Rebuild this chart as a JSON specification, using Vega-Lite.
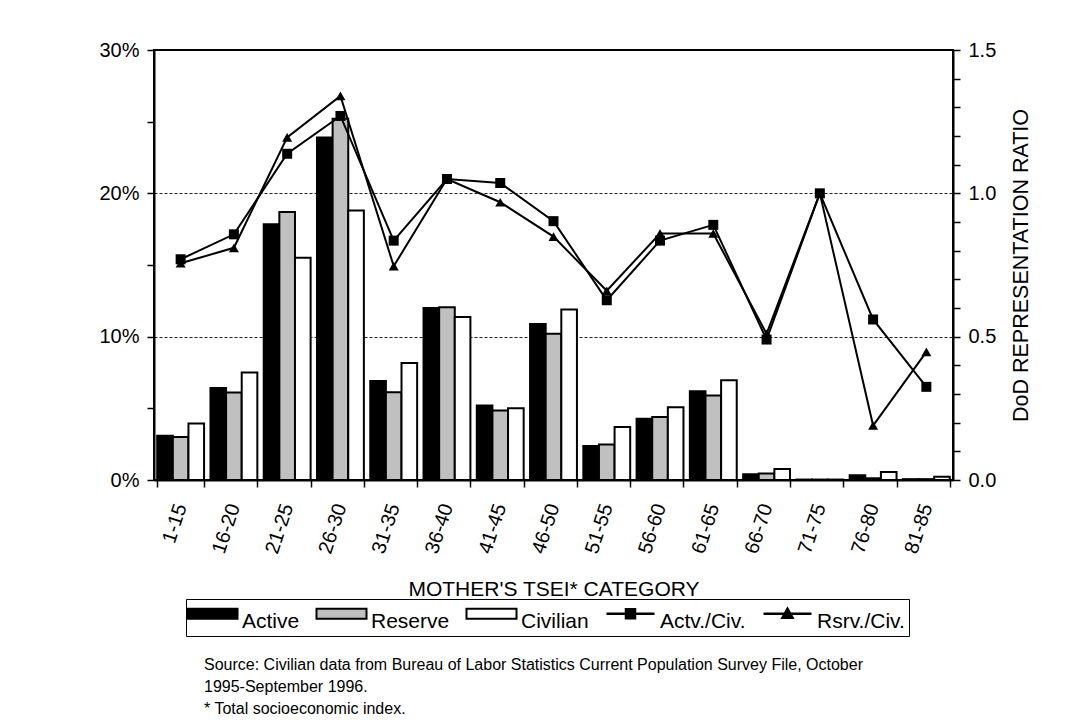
{
  "$schema": "https://vega.github.io/schema/vega-lite/v6.json",
  "autosize": "none",
  "width": 799,
  "height": 430,
  "padding": {"left": 154, "top": 50, "right": 139, "bottom": 247},
  "background": "white",
  "config": {
    "view": {"stroke": "black", "strokeWidth": 2},
    "font": "Liberation Sans",
    "axis": {"labelFont": "Liberation Sans", "titleFont": "Liberation Sans", "labelColor": "black", "titleColor": "black", "domainColor": "black", "tickColor": "black", "titleFontWeight": "normal"}
  },
  "title": {
    "text": ["Source:  Civilian data from Bureau of Labor Statistics Current Population Survey File, October", "1995-September 1996.", "* Total socioeconomic index."],
    "orient": "bottom",
    "anchor": "start",
    "frame": "group",
    "offset": 20,
    "dx": 50,
    "font": "Liberation Sans",
    "fontSize": 16,
    "fontWeight": "normal",
    "lineHeight": 22,
    "color": "black",
    "baseline": "top"
  },
  "datasets": {
    "bars": [
      {"cat": "1-15", "series": "Active", "value": 0.0308},
      {"cat": "1-15", "series": "Reserve", "value": 0.030},
      {"cat": "1-15", "series": "Civilian", "value": 0.0395},
      {"cat": "16-20", "series": "Active", "value": 0.0642},
      {"cat": "16-20", "series": "Reserve", "value": 0.061},
      {"cat": "16-20", "series": "Civilian", "value": 0.075},
      {"cat": "21-25", "series": "Active", "value": 0.1784},
      {"cat": "21-25", "series": "Reserve", "value": 0.187},
      {"cat": "21-25", "series": "Civilian", "value": 0.155},
      {"cat": "26-30", "series": "Active", "value": 0.239},
      {"cat": "26-30", "series": "Reserve", "value": 0.252},
      {"cat": "26-30", "series": "Civilian", "value": 0.188},
      {"cat": "31-35", "series": "Active", "value": 0.069},
      {"cat": "31-35", "series": "Reserve", "value": 0.0612},
      {"cat": "31-35", "series": "Civilian", "value": 0.0816},
      {"cat": "36-40", "series": "Active", "value": 0.120},
      {"cat": "36-40", "series": "Reserve", "value": 0.1206},
      {"cat": "36-40", "series": "Civilian", "value": 0.1137},
      {"cat": "41-45", "series": "Active", "value": 0.052},
      {"cat": "41-45", "series": "Reserve", "value": 0.0485},
      {"cat": "41-45", "series": "Civilian", "value": 0.050},
      {"cat": "46-50", "series": "Active", "value": 0.1088},
      {"cat": "46-50", "series": "Reserve", "value": 0.102},
      {"cat": "46-50", "series": "Civilian", "value": 0.119},
      {"cat": "51-55", "series": "Active", "value": 0.0237},
      {"cat": "51-55", "series": "Reserve", "value": 0.0248},
      {"cat": "51-55", "series": "Civilian", "value": 0.037},
      {"cat": "56-60", "series": "Active", "value": 0.0427},
      {"cat": "56-60", "series": "Reserve", "value": 0.044},
      {"cat": "56-60", "series": "Civilian", "value": 0.0508},
      {"cat": "61-65", "series": "Active", "value": 0.062},
      {"cat": "61-65", "series": "Reserve", "value": 0.059},
      {"cat": "61-65", "series": "Civilian", "value": 0.0696},
      {"cat": "66-70", "series": "Active", "value": 0.004},
      {"cat": "66-70", "series": "Reserve", "value": 0.0046},
      {"cat": "66-70", "series": "Civilian", "value": 0.0077},
      {"cat": "71-75", "series": "Active", "value": 0.0003},
      {"cat": "71-75", "series": "Reserve", "value": 0.0003},
      {"cat": "71-75", "series": "Civilian", "value": 0.0003},
      {"cat": "76-80", "series": "Active", "value": 0.0033},
      {"cat": "76-80", "series": "Reserve", "value": 0.0012},
      {"cat": "76-80", "series": "Civilian", "value": 0.0056},
      {"cat": "81-85", "series": "Active", "value": 0.0006},
      {"cat": "81-85", "series": "Reserve", "value": 0.0006},
      {"cat": "81-85", "series": "Civilian", "value": 0.0023}
    ],
    "ratios": [
      {"cat": "1-15", "series": "Actv./Civ.", "ratio": 0.77},
      {"cat": "16-20", "series": "Actv./Civ.", "ratio": 0.857},
      {"cat": "21-25", "series": "Actv./Civ.", "ratio": 1.138},
      {"cat": "26-30", "series": "Actv./Civ.", "ratio": 1.27},
      {"cat": "31-35", "series": "Actv./Civ.", "ratio": 0.835},
      {"cat": "36-40", "series": "Actv./Civ.", "ratio": 1.05},
      {"cat": "41-45", "series": "Actv./Civ.", "ratio": 1.036},
      {"cat": "46-50", "series": "Actv./Civ.", "ratio": 0.903},
      {"cat": "51-55", "series": "Actv./Civ.", "ratio": 0.627},
      {"cat": "56-60", "series": "Actv./Civ.", "ratio": 0.835},
      {"cat": "61-65", "series": "Actv./Civ.", "ratio": 0.89},
      {"cat": "66-70", "series": "Actv./Civ.", "ratio": 0.49},
      {"cat": "71-75", "series": "Actv./Civ.", "ratio": 1.0},
      {"cat": "76-80", "series": "Actv./Civ.", "ratio": 0.56},
      {"cat": "81-85", "series": "Actv./Civ.", "ratio": 0.325},
      {"cat": "1-15", "series": "Rsrv./Civ.", "ratio": 0.756},
      {"cat": "16-20", "series": "Rsrv./Civ.", "ratio": 0.81},
      {"cat": "21-25", "series": "Rsrv./Civ.", "ratio": 1.195},
      {"cat": "26-30", "series": "Rsrv./Civ.", "ratio": 1.34},
      {"cat": "31-35", "series": "Rsrv./Civ.", "ratio": 0.746},
      {"cat": "36-40", "series": "Rsrv./Civ.", "ratio": 1.05},
      {"cat": "41-45", "series": "Rsrv./Civ.", "ratio": 0.969},
      {"cat": "46-50", "series": "Rsrv./Civ.", "ratio": 0.849},
      {"cat": "51-55", "series": "Rsrv./Civ.", "ratio": 0.66},
      {"cat": "56-60", "series": "Rsrv./Civ.", "ratio": 0.86},
      {"cat": "61-65", "series": "Rsrv./Civ.", "ratio": 0.86},
      {"cat": "66-70", "series": "Rsrv./Civ.", "ratio": 0.51},
      {"cat": "71-75", "series": "Rsrv./Civ.", "ratio": 1.0},
      {"cat": "76-80", "series": "Rsrv./Civ.", "ratio": 0.19},
      {"cat": "81-85", "series": "Rsrv./Civ.", "ratio": 0.447}
    ]
  },
  "encoding": {
    "x": {
      "field": "cat",
      "type": "nominal",
      "sort": ["1-15", "16-20", "21-25", "26-30", "31-35", "36-40", "41-45", "46-50", "51-55", "56-60", "61-65", "66-70", "71-75", "76-80", "81-85"],
      "scale": {"paddingInner": 0.12, "paddingOuter": 0.06},
      "axis": {
        "title": "MOTHER'S TSEI* CATEGORY",
        "titleFontSize": 21,
        "titleX": 399.5,
        "titleY": 115.7,
        "titleAlign": "center",
        "titleBaseline": "alphabetic",
        "labelAngle": -72,
        "labelFontSize": 20,
        "labelPadding": 17,
        "tickBand": "extent",
        "tickSize": 7,
        "tickWidth": 1.5,
        "domainWidth": 2,
        "grid": false
      }
    }
  },
  "layer": [
    {
      "data": {"name": "bars"},
      "mark": {"type": "bar", "stroke": "black", "strokeWidth": 2},
      "encoding": {
        "xOffset": {"field": "series", "type": "nominal", "sort": ["Active", "Reserve", "Civilian"], "scale": {"paddingInner": 0, "paddingOuter": 0}},
        "y": {
          "field": "value",
          "type": "quantitative",
          "scale": {"domain": [0, 0.3], "nice": false},
          "axis": {
            "orient": "left",
            "title": null,
            "values": [0, 0.05, 0.1, 0.15, 0.2, 0.25, 0.3],
            "labelExpr": "round(datum.value*100) % 10 === 0 ? format(datum.value, '.0%') : ''",
            "labelFontSize": 20,
            "labelPadding": 8,
            "tickSize": 7,
            "tickWidth": 1.5,
            "domainWidth": 2,
            "grid": true,
            "gridColor": "#222",
            "gridDash": [3, 2],
            "gridWidth": 1,
            "gridOpacity": {"condition": {"test": "round(datum.value*100) === 10 || round(datum.value*100) === 20", "value": 1}, "value": 0}
          }
        },
        "fill": {
          "field": "series",
          "type": "nominal",
          "scale": {"domain": ["Active", "Reserve", "Civilian", "Actv./Civ.", "Rsrv./Civ."], "range": ["black", "#c0c0c0", "white", "black", "black"]},
          "legend": {
            "title": null,
            "orient": "none",
            "legendX": 32,
            "legendY": 549,
            "direction": "horizontal",
            "strokeColor": "black",
            "padding": 4,
            "symbolSize": 2500,
            "symbolOffset": 12,
            "symbolStrokeWidth": 2,
            "symbolStrokeColor": "black",
            "labelFont": "Liberation Sans",
            "labelFontSize": 21,
            "labelColor": "black",
            "labelLimit": 300,
            "labelOffset": 19,
            "labelBaseline": "middle",
            "columnPadding": 12,
            "encode": {
              "symbols": {
                "update": {
                  "shape": {"signal": "datum.value === 'Actv./Civ.' ? 'M-0.96,0H0.96M-0.18,-0.18H0.18V0.18H-0.18Z' : datum.value === 'Rsrv./Civ.' ? 'M-0.96,0H0.96M0,-0.2L0.2,0.16H-0.2Z' : 'M-1,-0.2H1V0.2H-1Z'"},
                  "stroke": {"value": "black"},
                  "strokeWidth": {"signal": "datum.value === 'Actv./Civ.' || datum.value === 'Rsrv./Civ.' ? 2.5 : 2"}
                }
              },
              "labels": {"update": {"dy": {"value": 8}}}
            }
          }
        }
      }
    },
    {
      "data": {"name": "ratios"},
      "encoding": {
        "y": {
          "field": "ratio",
          "type": "quantitative",
          "scale": {"domain": [0, 1.5], "nice": false},
          "axis": {
            "orient": "right",
            "title": "DoD REPRESENTATION RATIO",
            "titleFontSize": 21.5,
            "titleAngle": -90,
            "titleX": 74,
            "titleY": 215,
            "titleAlign": "center",
            "titleBaseline": "alphabetic",
            "values": [0, 0.1, 0.2, 0.3, 0.4, 0.5, 0.6, 0.7, 0.8, 0.9, 1.0, 1.1, 1.2, 1.3, 1.4, 1.5],
            "labelExpr": "round(datum.value*10) % 5 === 0 ? format(datum.value, '.1f') : ''",
            "labelFontSize": 20,
            "labelPadding": 8,
            "tickSize": 7,
            "tickWidth": 1.5,
            "domainWidth": 2,
            "grid": false
          }
        }
      },
      "layer": [
        {
          "mark": {"type": "line", "color": "black", "strokeWidth": 2},
          "encoding": {"detail": {"field": "series", "type": "nominal"}}
        },
        {
          "mark": {"type": "point", "filled": true, "color": "black", "opacity": 1, "size": 100},
          "encoding": {
            "shape": {"field": "series", "type": "nominal", "scale": {"domain": ["Actv./Civ.", "Rsrv./Civ."], "range": ["square", "triangle-up"]}, "legend": null}
          }
        }
      ]
    }
  ],
  "resolve": {"scale": {"y": "independent"}, "axis": {"y": "independent"}}
}
